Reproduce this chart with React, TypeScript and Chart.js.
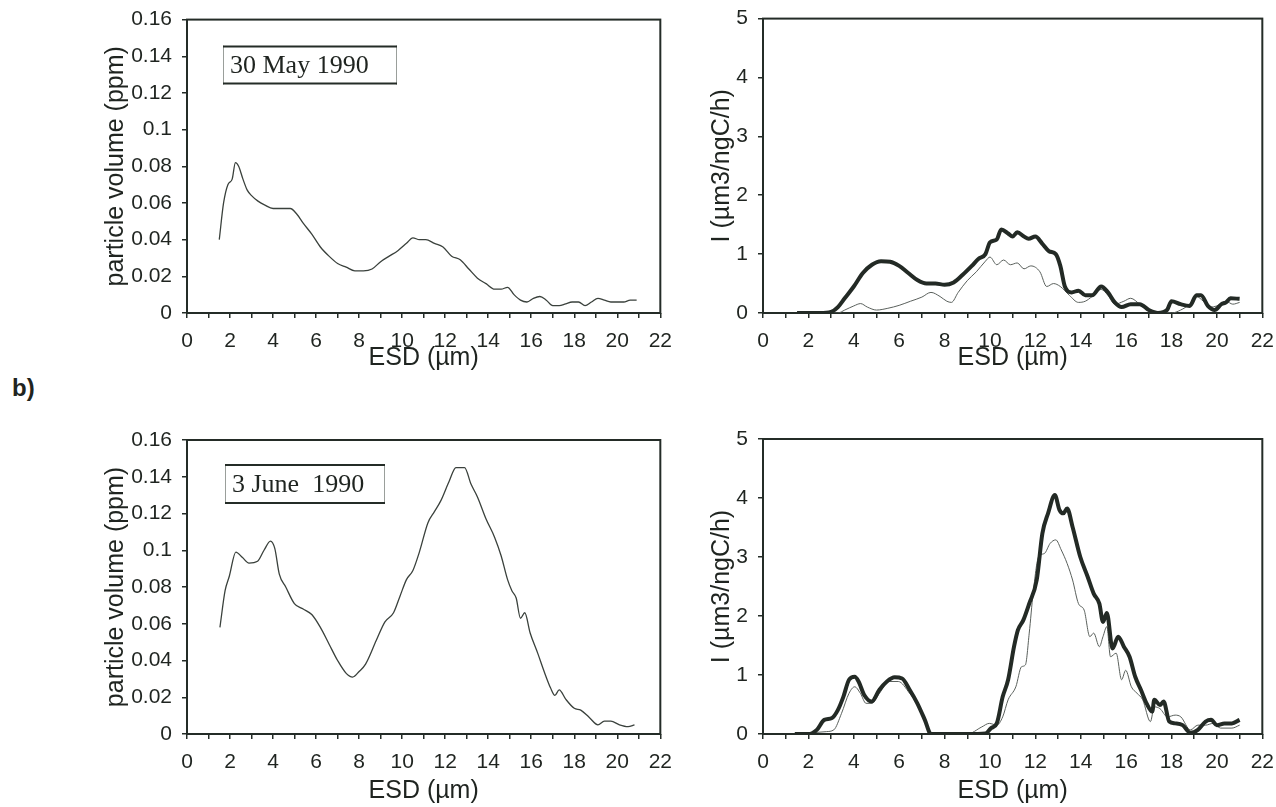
import React, { useEffect, useRef } from "react";
import { Chart, registerables } from "chart.js";

Chart.register(...registerables);

// ---------------- data ----------------
// a) 30 May 1990 – particle volume (ppm) vs ESD (µm)
const volMayX = [1.5, 1.7, 1.9, 2.1, 2.25, 2.4, 2.6, 2.8, 3.0, 3.3, 3.6, 4.0, 4.4, 4.8, 5.1, 5.4, 5.8, 6.2, 6.6, 7.0, 7.4, 7.8, 8.2, 8.6, 9.0, 9.4, 9.8, 10.2, 10.5, 10.8, 11.1, 11.5, 11.9, 12.3, 12.7, 13.1, 13.5, 13.9, 14.3, 14.6, 14.9, 15.2, 15.5, 15.8, 16.1, 16.4, 16.7, 17.0, 17.3, 17.6, 17.9, 18.2, 18.5, 18.8, 19.1, 19.4, 19.7, 20.0, 20.3, 20.6, 20.9];
const volMayY = [0.040, 0.060, 0.070, 0.073, 0.082, 0.080, 0.073, 0.067, 0.064, 0.061, 0.059, 0.057, 0.057, 0.057, 0.054, 0.049, 0.043, 0.036, 0.031, 0.027, 0.025, 0.023, 0.023, 0.024, 0.028, 0.031, 0.034, 0.038, 0.041, 0.040, 0.040, 0.038, 0.036, 0.031, 0.029, 0.024, 0.019, 0.016, 0.013, 0.013, 0.014, 0.010, 0.007, 0.006, 0.008, 0.009, 0.007, 0.004, 0.004, 0.005, 0.006, 0.006, 0.004, 0.006, 0.008, 0.007, 0.006, 0.006, 0.006, 0.007, 0.007];

// a) 30 May 1990 – I (µm3/ngC/h), thick and thin curves
const iMayThickX = [1.5, 2.0, 2.5, 3.0, 3.3, 3.6, 4.0, 4.4, 4.8, 5.2, 5.6, 6.0, 6.4, 6.8, 7.2, 7.6, 8.0, 8.4, 8.8, 9.2, 9.5, 9.8, 10.0, 10.3, 10.5, 10.8, 11.0, 11.2, 11.5, 11.7, 12.0, 12.3, 12.6, 12.9, 13.1, 13.3, 13.6, 13.9, 14.2, 14.5, 14.9, 15.2, 15.5, 15.8, 16.2, 16.6, 17.0, 17.4, 17.8, 18.0, 18.4, 18.8, 19.1, 19.3, 19.6, 19.9, 20.2, 20.4, 20.6, 21.0];
const iMayThickY = [0, 0, 0, 0.02, 0.1, 0.25, 0.45, 0.68, 0.82, 0.88, 0.87, 0.8, 0.68, 0.56, 0.5, 0.5, 0.48, 0.52, 0.65, 0.8, 0.92, 1.0, 1.2, 1.25, 1.42, 1.35, 1.3, 1.37, 1.3, 1.26, 1.3, 1.18, 1.05, 1.0, 0.8, 0.45, 0.35, 0.38, 0.3, 0.3, 0.45, 0.35, 0.18, 0.1, 0.15, 0.15, 0.05, 0.0, 0.05, 0.2, 0.15, 0.12, 0.3, 0.3, 0.12, 0.05, 0.15, 0.18, 0.25, 0.24];
const iMayThinX = [1.5, 3.3, 3.6, 4.0, 4.3, 4.6, 5.0, 5.5, 6.0, 6.5, 7.0, 7.4, 7.8, 8.1, 8.3, 8.6, 9.0, 9.4, 9.8, 10.0, 10.3, 10.6, 10.9, 11.2, 11.5, 11.8, 12.2, 12.5, 12.8, 13.1, 13.5, 13.9, 14.2, 14.5, 14.9, 15.2, 15.5, 15.9, 16.2, 16.6, 17.0, 17.5, 18.0, 18.4, 18.8, 19.1, 19.4, 19.7, 20.0, 20.4, 20.7, 21.0];
const iMayThinY = [0, 0, 0.05, 0.12, 0.16, 0.1, 0.05, 0.08, 0.13, 0.2, 0.27, 0.35, 0.28, 0.2, 0.18, 0.35, 0.55, 0.7, 0.88, 0.95, 0.82, 0.9, 0.82, 0.85, 0.75, 0.8, 0.7, 0.45, 0.5, 0.45, 0.3, 0.18, 0.2, 0.28, 0.4, 0.3, 0.15, 0.2, 0.25, 0.15, 0.05, 0.02, 0.0, 0.05, 0.15, 0.28, 0.2, 0.1, 0.12, 0.2, 0.15, 0.18];

// b) 3 June 1990 – particle volume (ppm)
const volJunX = [1.53, 1.77, 1.97, 2.27, 2.58, 2.88, 3.28, 3.58, 3.88, 4.08, 4.29, 4.59, 4.99, 5.4, 5.8, 6.2, 6.6, 7.0, 7.4, 7.7, 8.0, 8.3, 8.8, 9.2, 9.6, 9.9, 10.2, 10.5, 10.8, 11.2, 11.5, 11.8, 12.2, 12.5, 12.9, 13.2, 13.5, 13.9, 14.3, 14.6, 14.9, 15.1, 15.3, 15.5, 15.7, 15.95, 16.3, 16.6, 16.9, 17.1, 17.3, 17.6, 18.0, 18.3, 18.7, 19.1, 19.4, 19.7, 20.1, 20.5, 20.8];
const volJunY = [0.058, 0.078, 0.086, 0.099, 0.096, 0.093, 0.094, 0.100, 0.105, 0.101, 0.087, 0.080, 0.071, 0.068, 0.065, 0.058, 0.049, 0.040, 0.033, 0.031, 0.034, 0.038, 0.051, 0.061, 0.066, 0.075, 0.084, 0.089, 0.099, 0.115, 0.121, 0.127, 0.138, 0.145, 0.145, 0.136, 0.129, 0.117, 0.107, 0.097, 0.084, 0.078, 0.074, 0.063, 0.066, 0.055, 0.044, 0.034, 0.025, 0.021, 0.024, 0.019, 0.014, 0.013, 0.009, 0.005, 0.007, 0.007, 0.005, 0.004, 0.005];

// b) 3 June 1990 – I (µm3/ngC/h), thick and thin curves
const iJunThickX = [1.4, 2.0, 2.37, 2.7, 3.04, 3.29, 3.54, 3.79, 4.04, 4.21, 4.46, 4.79, 5.13, 5.46, 5.8, 6.13, 6.46, 6.8, 7.13, 7.4, 8.0, 9.0, 9.8, 10.05, 10.3, 10.56, 10.8, 11.06, 11.23, 11.47, 11.73, 12.06, 12.31, 12.56, 12.86, 13.06, 13.23, 13.4, 13.64, 13.98, 14.3, 14.57, 14.82, 14.98, 15.15, 15.4, 15.65, 15.9, 16.15, 16.4, 16.65, 16.9, 17.15, 17.24, 17.49, 17.65, 17.9, 18.16, 18.49, 18.83, 19.16, 19.5, 19.74, 20.0, 20.33, 20.66, 21.0];
const iJunThickY = [0, 0, 0.07, 0.24, 0.27, 0.4, 0.63, 0.92, 0.97, 0.89, 0.66, 0.55, 0.75, 0.89, 0.96, 0.94, 0.75, 0.52, 0.24, 0, 0, 0, 0.01, 0.1, 0.18, 0.63, 0.92, 1.48, 1.76, 1.93, 2.21, 2.61, 3.4, 3.74, 4.05, 3.8, 3.74, 3.82, 3.51, 3.0, 2.67, 2.38, 2.21, 1.9, 2.05, 1.45, 1.65, 1.48, 1.31, 0.97, 0.75, 0.52, 0.38, 0.58, 0.49, 0.55, 0.21, 0.18, 0.15, 0.02, 0.07, 0.21, 0.24, 0.15, 0.18, 0.18, 0.24];
const iJunThinX = [1.4, 2.79, 3.12, 3.46, 3.79, 4.04, 4.29, 4.54, 4.79, 5.13, 5.55, 5.96, 6.46, 6.8, 7.13, 7.4, 8.0, 9.0, 9.64, 9.97, 10.3, 10.56, 10.8, 11.14, 11.39, 11.56, 11.73, 11.9, 12.14, 12.4, 12.65, 12.9, 13.14, 13.4, 13.64, 13.9, 14.15, 14.4, 14.57, 14.82, 14.98, 15.15, 15.31, 15.56, 15.8, 15.98, 16.23, 16.48, 16.73, 17.07, 17.24, 17.49, 17.82, 18.16, 18.41, 18.83, 19.16, 19.5, 19.83, 20.16, 20.66, 21.0];
const iJunThinY = [0, 0.04, 0.07, 0.35, 0.69, 0.8, 0.69, 0.52, 0.52, 0.69, 0.89, 0.89, 0.69, 0.5, 0.22, 0, 0, 0, 0.12, 0.18, 0.15, 0.29, 0.58, 0.8, 1.14, 1.17, 1.71, 2.38, 3.0, 3.06, 3.23, 3.29, 3.12, 2.89, 2.61, 2.21, 2.1, 1.65, 1.71, 1.48, 1.65, 1.82, 1.31, 1.37, 0.92, 1.08, 0.8, 0.69, 0.58, 0.21, 0.46, 0.43, 0.29, 0.32, 0.29, 0.07, 0.15, 0.15, 0.18, 0.1, 0.1, 0.15];

// axis settings
const xMin = 0;
const xMax = 22;
const volMax = 0.16;
const volStep = 0.02;
const iMax = 5;
const iStep = 1;
const xTitle = "ESD (µm)";
const volTitle = "particle volume (ppm)";
const iTitle = "I (µm3/ngC/h)";
const dateMay = "30 May 1990";
const dateJun = "3 June  1990";

// ---------------- styling ----------------
const INK = "#242c27";
const TEXT = "#1f2420";
const SANS = "'Liberation Sans', Arial, sans-serif";
const SERIF = "'Liberation Serif', 'Times New Roman', serif";

type Series = { x: number[]; y: number[]; width: number; color: string };
type Box = { text: string; dx: number; dy: number; w: number; h: number };
type PanelProps = {
  left: number;
  top: number;
  width: number;
  height: number;
  yAxisW: number;
  xAxisH: number;
  padTop: number;
  yMax: number;
  yStep: number;
  yTitle: string;
  yTitlePad: number;
  xTitlePad: number;
  yFmt: (v: number) => string;
  series: Series[];
  box?: Box;
};

const framePlugin = {
  id: "frame",
  beforeDatasetsDraw(chart: any) {
    const { ctx, chartArea: a } = chart;
    ctx.save();
    ctx.strokeStyle = INK;
    ctx.lineWidth = 2;
    ctx.strokeRect(a.left, a.top, a.right - a.left, a.bottom - a.top);
    ctx.restore();
  },
};

const boxPlugin = {
  id: "dateBox",
  afterDatasetsDraw(chart: any, _args: any, opts: any) {
    if (!opts || !opts.text) return;
    const { ctx, chartArea: a } = chart;
    const x = a.left + opts.dx;
    const y = a.top + opts.dy;
    ctx.save();
    ctx.fillStyle = "#ffffff";
    ctx.fillRect(x, y, opts.w, opts.h);
    ctx.strokeStyle = "#9a9f9b";
    ctx.lineWidth = 1;
    ctx.beginPath();
    ctx.moveTo(x + 0.5, y);
    ctx.lineTo(x + 0.5, y + opts.h);
    ctx.moveTo(x + opts.w - 0.5, y);
    ctx.lineTo(x + opts.w - 0.5, y + opts.h);
    ctx.stroke();
    ctx.strokeStyle = INK;
    ctx.lineWidth = 2;
    ctx.beginPath();
    ctx.moveTo(x, y + 1);
    ctx.lineTo(x + opts.w, y + 1);
    ctx.moveTo(x, y + opts.h - 1);
    ctx.lineTo(x + opts.w, y + opts.h - 1);
    ctx.stroke();
    ctx.fillStyle = TEXT;
    ctx.font = `26px ${SERIF}`;
    ctx.textBaseline = "middle";
    ctx.textAlign = "left";
    ctx.fillText(opts.text, x + 7, y + opts.h / 2 + 1);
    ctx.restore();
  },
};

function Panel(p: PanelProps) {
  const ref = useRef<HTMLCanvasElement | null>(null);
  useEffect(() => {
    if (!ref.current) return;
    const chart = new Chart(ref.current, {
      type: "line",
      data: {
        datasets: p.series.map((s) => ({
          data: s.x.map((x, i) => ({ x, y: s.y[i] })),
          borderColor: s.color,
          borderWidth: s.width,
          pointRadius: 0,
          fill: false,
          tension: 0.4,
          cubicInterpolationMode: "monotone" as const,
          borderJoinStyle: "round" as const,
        })),
      },
      options: {
        responsive: false,
        animation: false,
        devicePixelRatio: 1,
        events: [],
        layout: { padding: { top: p.padTop, right: 0, left: 0, bottom: 0 } },
        plugins: {
          legend: { display: false },
          tooltip: { enabled: false },
          dateBox: p.box || {},
        } as any,
        scales: {
          x: {
            type: "linear",
            min: xMin,
            max: xMax,
            ticks: {
              stepSize: 1,
              autoSkip: false,
              maxRotation: 0,
              padding: 11,
              color: TEXT,
              font: { size: 21, family: SANS },
              callback: (v: any) => (Number(v) % 2 === 0 ? String(v) : ""),
            },
            grid: { drawOnChartArea: false, tickLength: 5, color: INK, lineWidth: 1.5 },
            border: { display: false },
            title: {
              display: true,
              text: xTitle,
              color: TEXT,
              font: { size: 25, family: SANS, lineHeight: 1 },
              padding: { top: 0, bottom: p.xTitlePad },
            },
            afterFit: (s: any) => {
              s.height = p.xAxisH;
            },
          },
          y: {
            type: "linear",
            min: 0,
            max: p.yMax,
            ticks: {
              stepSize: p.yStep,
              padding: 10,
              color: TEXT,
              font: { size: 21, family: SANS },
              callback: (v: any) => p.yFmt(Number(v)),
            },
            grid: { drawOnChartArea: false, tickLength: 5, color: INK, lineWidth: 1.5 },
            border: { display: false },
            title: {
              display: true,
              text: p.yTitle,
              color: TEXT,
              font: { size: 25, family: SANS, lineHeight: 1 },
              padding: { top: p.yTitlePad, bottom: 0 },
            },
            afterFit: (s: any) => {
              s.width = p.yAxisW;
            },
          },
        },
      },
      plugins: [framePlugin, boxPlugin],
    });
    return () => chart.destroy();
  }, []);
  return (
    <canvas
      ref={ref}
      width={p.width}
      height={p.height}
      style={{ position: "absolute", left: p.left, top: p.top, width: p.width, height: p.height }}
    />
  );
}

const fmtVol = (v: number) => String(Number(v.toFixed(2)));
const fmtI = (v: number) => String(Math.round(v));

export default function App() {
  const thin = "#5a605c";
  const thick = "#232a25";
  return (
    <div
      style={{
        position: "absolute",
        left: 0,
        top: 0,
        width: 1276,
        height: 807,
        background: "#ffffff",
        overflow: "hidden",
        fontFamily: SANS,
      }}
    >
      <Panel
        left={100}
        top={-3}
        width={583}
        height={403}
        yAxisW={87}
        xAxisH={87}
        padTop={0}
        yMax={volMax}
        yStep={volStep}
        yTitle={volTitle}
        yTitlePad={3.5}
        xTitlePad={29.5}
        yFmt={fmtVol}
        series={[{ x: volMayX, y: volMayY, width: 1.3, color: "#3a413c" }]}
        box={{ text: dateMay, dx: 36, dy: 26, w: 174, h: 39 }}
      />
      <Panel
        left={690}
        top={-4}
        width={595}
        height={404}
        yAxisW={73}
        xAxisH={87}
        padTop={0}
        yMax={iMax}
        yStep={iStep}
        yTitle={iTitle}
        yTitlePad={19.5}
        xTitlePad={29.5}
        yFmt={fmtI}
        series={[
          { x: iMayThickX, y: iMayThickY, width: 4, color: thick },
          { x: iMayThinX, y: iMayThinY, width: 1, color: thin },
        ]}
      />
      <Panel
        left={100}
        top={400}
        width={583}
        height={407}
        yAxisW={87}
        xAxisH={73}
        padTop={40}
        yMax={volMax}
        yStep={volStep}
        yTitle={volTitle}
        yTitlePad={3.5}
        xTitlePad={3.5}
        yFmt={fmtVol}
        series={[{ x: volJunX, y: volJunY, width: 1.3, color: "#3a413c" }]}
        box={{ text: dateJun, dx: 38, dy: 24, w: 160, h: 40 }}
      />
      <Panel
        left={690}
        top={400}
        width={595}
        height={407}
        yAxisW={73}
        xAxisH={73}
        padTop={39}
        yMax={iMax}
        yStep={iStep}
        yTitle={iTitle}
        yTitlePad={19.5}
        xTitlePad={3.5}
        yFmt={fmtI}
        series={[
          { x: iJunThickX, y: iJunThickY, width: 4, color: thick },
          { x: iJunThinX, y: iJunThinY, width: 1, color: thin },
        ]}
      />
      <div
        style={{
          position: "absolute",
          left: 12,
          top: 373,
          fontFamily: SANS,
          fontWeight: "bold",
          fontSize: 24,
          lineHeight: "30px",
          color: TEXT,
        }}
      >
        b)
      </div>
    </div>
  );
}
